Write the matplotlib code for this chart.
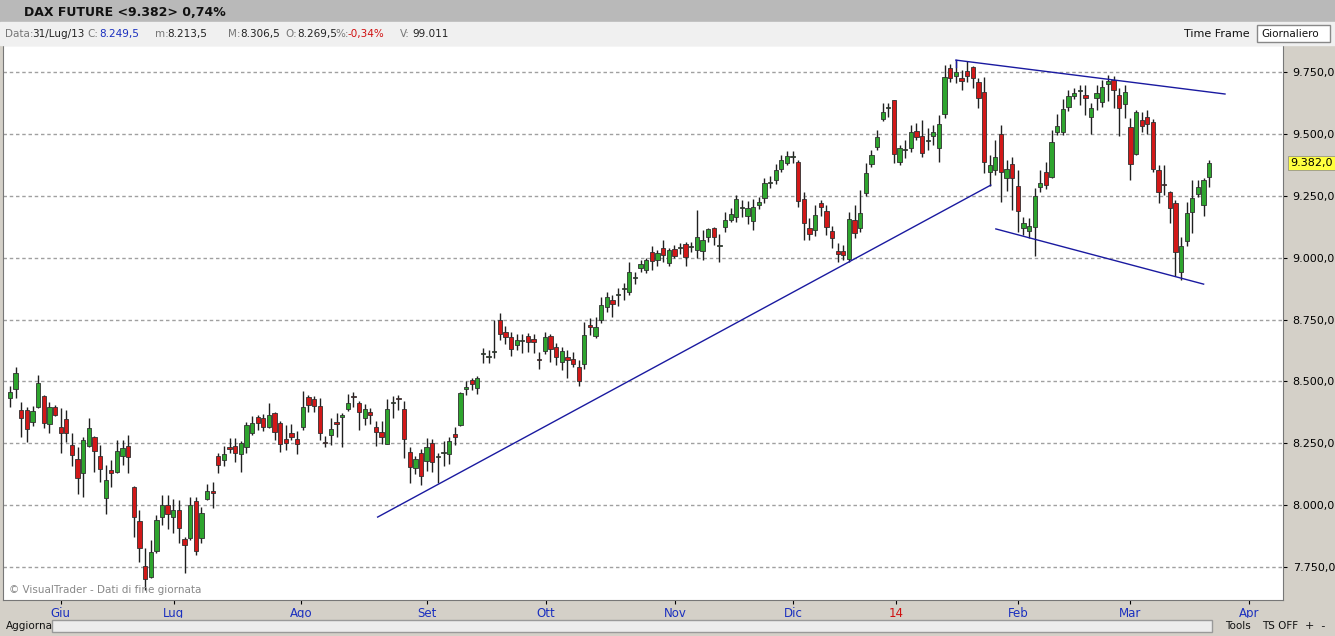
import matplotlib
matplotlib.use("Agg")
import matplotlib.pyplot as plt
from matplotlib.patches import Rectangle
import numpy as np

opens = [8433,8469,8384,8384,8336,8397,8441,8328,8397,8316,8348,8243,8186,8130,8239,8275,8199,8029,8142,8134,
8199,8239,8073,7936,7754,7710,7815,7952,8001,7952,7980,7863,7867,8017,7867,8025,8057,8199,8182,8235,
8239,8207,8235,8292,8356,8352,8316,8372,8332,8267,8292,8267,8316,8437,8429,8401,8255,8283,8336,8356,
8388,8441,8413,8352,8376,8316,8296,8247,8413,8433,8389,8215,8150,8211,8178,8251,8195,8211,8207,8287,
8324,8469,8506,8473,8612,8598,8620,8748,8700,8679,8647,8665,8683,8671,8588,8623,8683,8639,8578,8598,
8590,8558,8570,8728,8683,8748,8801,8829,8851,8873,8861,8918,8958,8950,9023,8990,9039,8978,9035,9037,
9055,9043,9031,9027,9083,9120,9049,9124,9152,9164,9200,9168,9148,9213,9241,9300,9314,9358,9382,9405,
9386,9237,9120,9112,9221,9188,9108,9027,9027,8994,9152,9120,9261,9378,9447,9560,9603,9637,9386,9433,
9443,9512,9491,9473,9491,9443,9580,9766,9734,9726,9754,9770,9710,9669,9346,9354,9500,9322,9378,9289,
9120,9108,9124,9285,9346,9326,9508,9508,9609,9653,9675,9657,9568,9645,9629,9702,9718,9657,9621,9528,
9419,9556,9568,9548,9354,9295,9265,9221,8942,9067,9184,9257,9213,9326]
closes = [8457,8534,8352,8308,8380,8494,8332,8397,8364,8292,8292,8203,8110,8263,8312,8219,8146,8102,8130,8219,
8231,8195,7952,7827,7702,7811,7940,8001,7964,7980,7908,7839,8001,7815,7968,8057,8049,8162,8207,8227,
8211,8251,8324,8332,8332,8316,8364,8296,8247,8251,8275,8247,8397,8405,8401,8292,8251,8308,8328,8364,
8413,8437,8376,8389,8364,8296,8275,8389,8417,8429,8267,8154,8186,8118,8235,8174,8199,8215,8259,8275,
8453,8477,8490,8514,8616,8600,8624,8691,8679,8631,8667,8669,8659,8659,8586,8679,8631,8598,8623,8586,
8570,8502,8687,8720,8720,8809,8841,8813,8853,8873,8942,8918,8974,8990,8986,9019,9011,9031,9007,9039,
9003,9045,9083,9071,9116,9083,9051,9152,9176,9237,9202,9200,9204,9225,9302,9304,9354,9394,9411,9407,
9229,9140,9096,9172,9205,9124,9079,9015,9011,9156,9100,9180,9342,9415,9487,9588,9607,9419,9443,9437,
9508,9487,9423,9477,9508,9540,9730,9726,9750,9714,9734,9726,9645,9386,9374,9407,9346,9358,9322,9188,
9140,9128,9249,9301,9293,9467,9532,9600,9653,9665,9679,9645,9605,9665,9689,9714,9677,9605,9669,9378,
9588,9532,9540,9358,9265,9293,9200,9023,9047,9180,9241,9285,9314,9382]
highs = [8481,8558,8417,8397,8400,8526,8445,8417,8405,8393,8384,8292,8235,8275,8352,8280,8243,8162,8182,8263,
8263,8283,8078,7980,7827,7859,7960,8041,8041,8025,8021,7871,8033,8033,7993,8086,8094,8211,8239,8271,
8271,8260,8336,8360,8365,8370,8413,8378,8340,8324,8328,8300,8461,8445,8440,8433,8279,8352,8372,8372,
8449,8457,8420,8409,8393,8340,8340,8429,8441,8445,8421,8235,8199,8227,8271,8267,8211,8259,8275,8316,
8457,8502,8514,8522,8635,8627,8748,8776,8724,8700,8691,8691,8695,8691,8619,8700,8690,8655,8640,8627,
8619,8586,8740,8756,8760,8841,8861,8849,8877,8898,8982,8942,8990,8998,9047,9031,9071,9040,9051,9059,
9063,9063,9192,9112,9120,9124,9095,9184,9200,9253,9233,9229,9237,9245,9322,9330,9378,9415,9431,9431,
9394,9265,9160,9213,9233,9213,9128,9059,9051,9184,9213,9273,9382,9435,9516,9625,9625,9637,9455,9475,
9536,9544,9556,9524,9536,9576,9778,9782,9798,9758,9794,9774,9726,9730,9415,9475,9536,9394,9407,9354,
9164,9160,9281,9354,9386,9516,9580,9641,9677,9685,9697,9697,9625,9697,9718,9738,9734,9685,9697,9564,
9596,9588,9596,9560,9374,9374,9270,9233,9083,9225,9314,9314,9322,9394]
lows = [8397,8433,8275,8255,8320,8393,8312,8292,8360,8211,8255,8158,8045,8033,8235,8134,8094,7964,8073,8130,
8162,8130,7871,7770,7657,7705,7807,7920,7904,7888,7847,7726,7860,7799,7847,8020,7989,8130,8160,8211,
8174,8134,8211,8285,8304,8300,8312,8263,8215,8223,8265,8207,8304,8376,8376,8263,8235,8243,8275,8235,
8380,8397,8304,8324,8328,8239,8247,8247,8352,8384,8190,8090,8126,8082,8138,8134,8090,8158,8166,8243,
8320,8445,8465,8449,8574,8574,8594,8667,8651,8603,8627,8615,8619,8615,8550,8611,8578,8566,8546,8514,
8560,8481,8550,8687,8675,8736,8780,8760,8805,8829,8849,8893,8942,8938,8950,8966,8982,8966,9000,9015,
8966,9023,8999,8990,9063,9051,8982,9104,9144,9144,9164,9136,9112,9196,9221,9281,9297,9346,9374,9382,
9205,9071,9071,9087,9168,9091,9039,8982,8990,8982,9079,9104,9249,9366,9435,9552,9568,9382,9374,9403,
9427,9475,9407,9435,9455,9386,9564,9710,9706,9677,9710,9685,9605,9342,9289,9334,9225,9269,9192,9104,
9091,9079,9007,9265,9277,9322,9495,9495,9592,9641,9617,9576,9500,9596,9609,9633,9605,9491,9564,9314,
9415,9508,9500,9346,9221,9253,9140,8926,8910,9047,9100,9245,9168,9285]

month_labels = ["Giu", "Lug", "Ago", "Set", "Ott", "Nov", "Dic", "14", "Feb", "Mar", "Apr"]
month_pos = [9.0, 29.1, 51.7, 74.1, 95.2, 118.2, 139.1, 157.4, 179.0, 199.0, 220.1]
yticks = [7750, 8000, 8250, 8500, 8750, 9000, 9250, 9500, 9750]
# trend lines (index, price)
line1 = ([65.3, 174.2], [7952, 9293])
line2 = ([168.0, 215.8], [9798, 9661])
line3 = ([175.1, 212.0], [9116, 8893])
last_price = 9382

W, H = 1335, 636
fig = plt.figure(figsize=(W/100, H/100), dpi=100)
fig.patch.set_facecolor("#d4d0c8")
def fx(px): return px / W
def fy(py): return 1 - py / H

# title bar
fig.patches.append(Rectangle((0, fy(22)), 1, 22/H, transform=fig.transFigure, color="#b9b9b9", zorder=0))
fig.patches.append(Rectangle((0, fy(45)), 1, 23/H, transform=fig.transFigure, color="#f0f0f0", zorder=0))
fig.text(fx(24), fy(12), "DAX FUTURE <9.382> 0,74%", fontsize=9, fontweight="bold", va="center", color="#111")
hdr = [(5, "Data:", "#777"), (32, "31/Lug/13", "#222"), (87, "C:", "#777"), (99, "8.249,5", "#1a2fbf"),
       (155, "m:", "#777"), (167, "8.213,5", "#222"), (228, "M:", "#777"), (240, "8.306,5", "#222"),
       (285, "O:", "#777"), (297, "8.269,5", "#222"), (335, "%:", "#777"), (347, "-0,34%", "#d01010"),
       (400, "V:", "#777"), (412, "99.011", "#222")]
for px, t, c in hdr:
    fig.text(fx(px), fy(34), t, fontsize=7.5, va="center", color=c)
fig.text(fx(1184), fy(34), "Time Frame", fontsize=8, va="center", color="#111")
fig.patches.append(Rectangle((fx(1257), fy(42)), 73/W, 17/H, transform=fig.transFigure, facecolor="white", edgecolor="#888", zorder=1))
fig.text(fx(1261), fy(34), "Giornaliero", fontsize=7.5, va="center", color="#111", zorder=2)

ax = fig.add_axes([fx(3), fy(600), fx(1280), (600-45)/H])
ax.set_facecolor("white")
n = len(closes)
idx = np.arange(n)
for i in idx:
    o, c, h, l = opens[i], closes[i], highs[i], lows[i]
    up = c >= o
    col = "#2ea52e" if up else "#d21818"
    ax.vlines(i, l, h, color="#202020", lw=1.0, zorder=2)
    bot, top = min(o, c), max(o, c)
    hgt = max(top - bot, 4)
    ax.add_patch(Rectangle((i - 0.38, bot), 0.76, hgt, facecolor=col, edgecolor="#303030", lw=0.6, zorder=3))

ax.plot(*line1, color="#1a1aa0", lw=1.0, zorder=4)
ax.plot(*line2, color="#1a1aa0", lw=1.0, zorder=4)
ax.plot([168.0, 168.0], [9798, 9770], color="#1a1aa0", lw=1.0, zorder=4)
ax.plot(*line3, color="#1a1aa0", lw=1.0, zorder=4)

ax.set_xlim(-1.24, 226.1)
ax.set_ylim(7617, 9859)
for v in yticks:
    ax.axhline(v, color="#a0a0a0", lw=1.0, ls=(0, (2.5, 2)), zorder=1)
ax.yaxis.tick_right()
ax.set_yticks(yticks)
ax.set_yticklabels([f"{v:,}".replace(",", ".") + ",0" for v in yticks], fontsize=8)
ax.tick_params(axis="y", length=3, pad=4)
ax.set_xticks(month_pos)
ax.set_xticklabels(month_labels, fontsize=8.5, color="#1a2fbf")
ax.get_xticklabels()[7].set_color("#d01010")
ax.tick_params(axis="x", length=3, pad=2)
for s in ax.spines.values():
    s.set_color("#777")
ax.text(0.005, 0.012, "© VisualTrader - Dati di fine giornata", transform=ax.transAxes, fontsize=7.5, color="#888")
ax.annotate(f"{last_price:,}".replace(",", ".") + ",0", xy=(1.0, last_price), xycoords=("axes fraction", "data"),
            xytext=(5, 0), textcoords="offset points", va="center", fontsize=8,
            bbox=dict(boxstyle="square,pad=0.2", fc="#ffff40", ec="#888", lw=0.5))

# bottom bar
fig.patches.append(Rectangle((0, 0), 1, 18/H, transform=fig.transFigure, color="#d4d0c8", zorder=0))
fig.text(fx(6), fy(626), "Aggiorna", fontsize=7.5, va="center", color="#111")
fig.patches.append(Rectangle((fx(52), fy(632)), 1160/W, 12/H, transform=fig.transFigure, facecolor="#ececec", edgecolor="#999", zorder=1))
fig.text(fx(1225), fy(626), "Tools", fontsize=7.5, va="center", color="#111")
fig.text(fx(1262), fy(626), "TS OFF", fontsize=7.5, va="center", color="#111")
fig.text(fx(1305), fy(626), "+  -", fontsize=8, va="center", color="#111")

fig.savefig("out.png", dpi=100, facecolor=fig.get_facecolor())
